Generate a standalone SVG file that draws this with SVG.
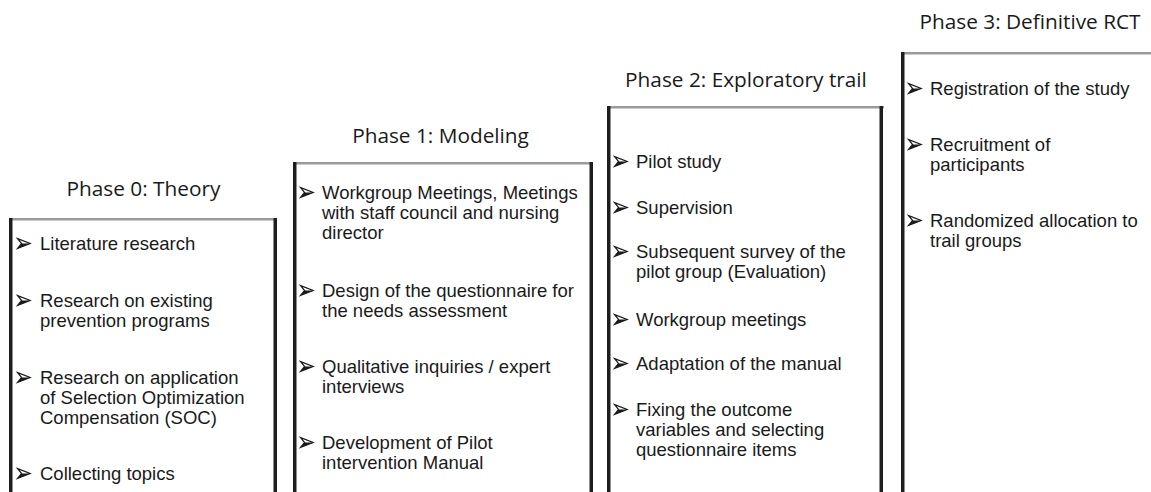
<svg xmlns="http://www.w3.org/2000/svg" xmlns:xlink="http://www.w3.org/1999/xlink" width="1151" height="492" viewBox="0 0 1151 492">
  <style>
    .title { font-family: "Open Sans", "Noto Sans", sans-serif; font-size: 20.8px; fill: #1a1a1a; text-anchor: middle; }
    .item { font-family: "Liberation Sans", Arial, sans-serif; font-size: 18.5px; fill: #1a1a1a; }
    .top { fill: #9a9a9a; }
    .side { fill: #1e1e1e; }
  </style>
  <defs>
    <!-- arrowhead bullet: outlined upper half, filled lower half -->
    <symbol id="bullet" viewBox="0 0 14 11" width="14" height="11" overflow="visible">
      <path d="M0.6,0.6 L13.2,5.5 L0.6,10.4 L4.6,5.5 Z" fill="#fff" stroke="#1a1a1a" stroke-width="1.2" stroke-linejoin="miter"/>
      <path d="M4.6,5.5 L13.2,5.5 L0.6,10.4 Z" fill="#1a1a1a"/>
    </symbol>
  </defs>
  <rect width="1151" height="492" fill="#fff"/>

  <!-- Phase 0 -->
  <g id="phase0">
    <text class="title" x="143.5" y="196">Phase 0: Theory</text>
    <rect class="top" x="9" y="218" width="268" height="2.5"/>
    <rect class="side" x="9" y="218" width="3.5" height="274"/>
    <rect class="side" x="273.5" y="218" width="3.5" height="274"/>
    <use href="#bullet" x="17" y="238"/>
    <text class="item" x="40" y="250">Literature research</text>
    <use href="#bullet" x="17" y="295"/>
    <text class="item" x="40" y="307">Research on existing</text>
    <text class="item" x="40" y="327">prevention programs</text>
    <use href="#bullet" x="17" y="372"/>
    <text class="item" x="40" y="384">Research on application</text>
    <text class="item" x="40" y="404">of Selection Optimization</text>
    <text class="item" x="40" y="424">Compensation (SOC)</text>
    <use href="#bullet" x="17" y="468"/>
    <text class="item" x="40" y="480">Collecting topics</text>
  </g>

  <!-- Phase 1 -->
  <g id="phase1">
    <text class="title" x="440.5" y="143">Phase 1: Modeling</text>
    <rect class="top" x="293" y="162" width="300" height="2.5"/>
    <rect class="side" x="293" y="162" width="3.5" height="330"/>
    <rect class="side" x="589.5" y="162" width="3.5" height="330"/>
    <use href="#bullet" x="300" y="187"/>
    <text class="item" x="322" y="199">Workgroup Meetings, Meetings</text>
    <text class="item" x="322" y="219">with staff council and nursing</text>
    <text class="item" x="322" y="239">director</text>
    <use href="#bullet" x="300" y="285"/>
    <text class="item" x="322" y="297">Design of the questionnaire for</text>
    <text class="item" x="322" y="317">the needs assessment</text>
    <use href="#bullet" x="300" y="361"/>
    <text class="item" x="322" y="373">Qualitative inquiries / expert</text>
    <text class="item" x="322" y="393">interviews</text>
    <use href="#bullet" x="300" y="437"/>
    <text class="item" x="322" y="449">Development of Pilot</text>
    <text class="item" x="322" y="469">intervention Manual</text>
  </g>

  <!-- Phase 2 -->
  <g id="phase2">
    <text class="title" x="746" y="87">Phase 2: Exploratory trail</text>
    <rect class="top" x="607" y="106" width="277" height="2.5"/>
    <rect class="side" x="607" y="106" width="3.5" height="386"/>
    <rect class="side" x="879.5" y="106" width="3.5" height="386"/>
    <use href="#bullet" x="614" y="156"/>
    <text class="item" x="636" y="168">Pilot study</text>
    <use href="#bullet" x="614" y="202"/>
    <text class="item" x="636" y="214">Supervision</text>
    <use href="#bullet" x="614" y="246"/>
    <text class="item" x="636" y="258">Subsequent survey of the</text>
    <text class="item" x="636" y="278">pilot group (Evaluation)</text>
    <use href="#bullet" x="614" y="314"/>
    <text class="item" x="636" y="326">Workgroup meetings</text>
    <use href="#bullet" x="614" y="358"/>
    <text class="item" x="636" y="370">Adaptation of the manual</text>
    <use href="#bullet" x="614" y="404"/>
    <text class="item" x="636" y="416">Fixing the outcome</text>
    <text class="item" x="636" y="436">variables and selecting</text>
    <text class="item" x="636" y="456">questionnaire items</text>
  </g>

  <!-- Phase 3 -->
  <g id="phase3">
    <text class="title" x="1030" y="29">Phase 3: Definitive RCT</text>
    <rect class="top" x="901" y="52" width="260" height="2.5"/>
    <rect class="side" x="901" y="52" width="3.5" height="440"/>
    <use href="#bullet" x="908" y="83"/>
    <text class="item" x="930" y="95">Registration of the study</text>
    <use href="#bullet" x="908" y="139"/>
    <text class="item" x="930" y="151">Recruitment of</text>
    <text class="item" x="930" y="171">participants</text>
    <use href="#bullet" x="908" y="215"/>
    <text class="item" x="930" y="227">Randomized allocation to</text>
    <text class="item" x="930" y="247">trail groups</text>
  </g>
</svg>
